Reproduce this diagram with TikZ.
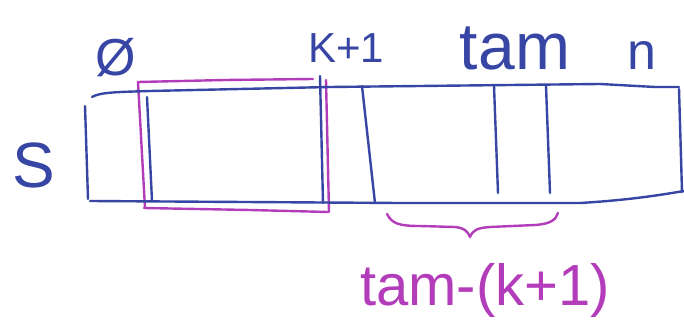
\documentclass[tikz,border=0pt]{standalone}
\usepackage{fontspec}
\setmainfont{Liberation Sans}
\begin{document}
\begin{tikzpicture}[x=1pt,y=-1pt,
  blueline/.style={draw=penblue,line width=2.4pt,line cap=round,line join=round},
  magline/.style={draw=penmag,line width=2.4pt,line cap=round,line join=round},
  bluetext/.style={text=penblue,inner sep=0pt},
  magtext/.style={text=penmag,inner sep=0pt}]
\definecolor{penblue}{RGB}{55,70,165}
\definecolor{penmag}{RGB}{178,60,185}
\useasboundingbox (0,0) rectangle (684,323);
\fill[white] (0,0) rectangle (684,323);
% magenta window
\draw[magline] (138,82) -- (225,80) -- (313,79);
\draw[magline] (138,82) -- (145,208);
\draw[magline] (144,208) -- (250,210) -- (328,212);
\draw[magline] (326,80) -- (329,212);
% array outline
\draw[blueline] (92,97) .. controls (100,92) and (120,92) .. (150,91) -- (330,87) -- (600,84) -- (655,87) -- (679,87);
\draw[blueline] (679,89) -- (682,192);
\draw[blueline] (90,201) -- (400,203) -- (580,203) .. controls (630,200) and (660,195) .. (684,191);
\draw[blueline] (85,106) -- (88,199);
% separators
\draw[blueline] (147,97) -- (152,201);
\draw[blueline] (320,76) -- (323,203);
\draw[blueline] (362,86) -- (375,203);
\draw[blueline] (494,86) -- (498,193);
\draw[blueline] (546,86) -- (550,193);
% brace
\draw[magline] (387,214) .. controls (392,224) and (400,226) .. (420,226)
  -- (455,227) .. controls (465,228) and (468,232) .. (470,237)
  .. controls (473,230) and (477,228) .. (490,227)
  -- (535,225) .. controls (550,224) and (556,220) .. (558,213);
% labels
\node[bluetext,font=\fontsize{52}{52}\selectfont] (zero) at (116,58) {Ø};
\node[bluetext,font=\fontsize{42}{42}\selectfont,anchor=base] (kp) at (346,63) {K+1};
\node[bluetext,font=\fontsize{66}{66}\selectfont,anchor=base] (tam) at (515,70) {tam};
\node[bluetext,font=\fontsize{52}{52}\selectfont,anchor=base] (n) at (642,70) {n};
\node[bluetext,font=\fontsize{64}{64}\selectfont] (s) at (34,165) {S};
\node[magtext,font=\fontsize{58}{58}\selectfont,anchor=base] (len) at (485,305) {tam-(k+1)};
\end{tikzpicture}
\end{document}
